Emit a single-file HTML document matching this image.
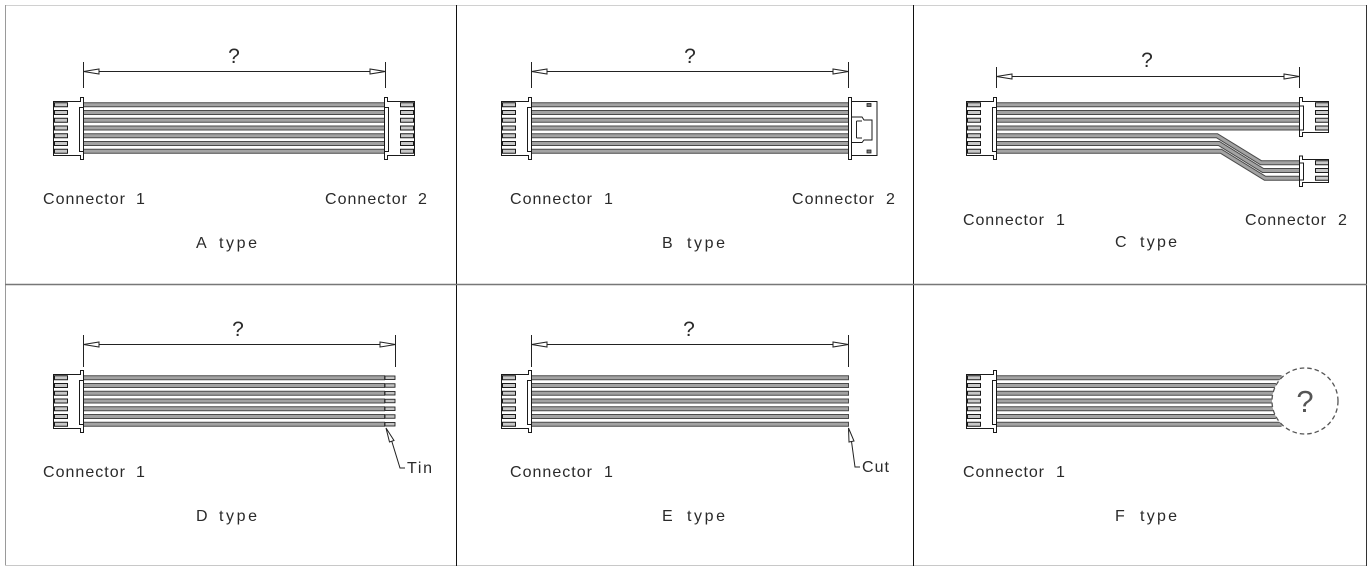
<!DOCTYPE html>
<html><head><meta charset="utf-8"><style>
html,body{margin:0;padding:0;background:#fff;}
svg{display:block;}
text{font-family:"Liberation Sans",sans-serif;fill:#2a2a2a;font-size:16px;}
.q{font-size:21px;}
.wo{stroke:#4a4a4a;stroke-width:5;fill:none;}
.wi{stroke:#a3a3a3;stroke-width:3;fill:none;}
.ln{stroke:#222;stroke-width:1;fill:none;}
.ar{stroke:#222;stroke-width:1;fill:#fff;}
.pin{fill:#c8c8c8;stroke:#1a1a1a;stroke-width:1;}
.hs{fill:#fff;stroke:#1a1a1a;stroke-width:1;}
</style></head><body>
<svg width="1372" height="573" viewBox="0 0 1372 573" xmlns="http://www.w3.org/2000/svg">
<defs>
 <g id="c7">
  <path class="hs" d="M53.5 101.5H80.5V97.5H83.5V159.5H80.5V155.5H53.5Z"/>
  <rect class="hs" x="79.5" y="107.5" width="4" height="44"/>
  <rect class="pin" x="54.5" y="102.75" width="13" height="4"/>
  <rect class="pin" x="54.5" y="110.5" width="13" height="4"/>
  <rect class="pin" x="54.5" y="118.25" width="13" height="4"/>
  <rect class="pin" x="54.5" y="126" width="13" height="4"/>
  <rect class="pin" x="54.5" y="133.75" width="13" height="4"/>
  <rect class="pin" x="54.5" y="141.5" width="13" height="4"/>
  <rect class="pin" x="54.5" y="149.25" width="13" height="4"/>
 </g>
</defs>

<!-- frame -->
<line x1="5" y1="5.5" x2="1367" y2="5.5" stroke="#d0d0d0" stroke-width="1"/>
<line x1="5.5" y1="5" x2="5.5" y2="566" stroke="#9a9a9a" stroke-width="1"/>
<line x1="5" y1="565.5" x2="1367" y2="565.5" stroke="#c8c8c8" stroke-width="1"/>
<line x1="1366.5" y1="5" x2="1366.5" y2="566" stroke="#333" stroke-width="1"/>
<line x1="456.5" y1="5" x2="456.5" y2="566" stroke="#111" stroke-width="1"/>
<line x1="913.5" y1="5" x2="913.5" y2="566" stroke="#111" stroke-width="1"/>
<line x1="5" y1="284.5" x2="1367" y2="284.5" stroke="#777" stroke-width="1.5"/>

<!-- ================= A ================= -->
<path class="ln" d="M83.5 62V88M385.5 62V88M83.5 71.5H385.5"/>
<polygon class="ar" points="83.5,71.5 99,69 99,74"/>
<polygon class="ar" points="385.5,71.5 370,69 370,74"/>
<text class="q" x="234" y="63" text-anchor="middle">?</text>
<path class="wo" d="M83 104.75H385M83 112.5H385M83 120.25H385M83 128H385M83 135.75H385M83 143.5H385M83 151.25H385"/>
<path class="wi" d="M83 104.75H385M83 112.5H385M83 120.25H385M83 128H385M83 135.75H385M83 143.5H385M83 151.25H385"/>
<use href="#c7"/>
<use href="#c7" transform="translate(468,0) scale(-1,1)"/>
<text x="43" y="204" textLength="82" lengthAdjust="spacing">Connector</text>
<text x="136" y="204">1</text>
<text x="325" y="204" textLength="82" lengthAdjust="spacing">Connector</text>
<text x="418" y="204">2</text>
<text x="196" y="248">A</text>
<text x="219" y="248" textLength="38" lengthAdjust="spacing">type</text>

<!-- ================= B ================= -->
<path class="ln" d="M531.5 62V88M848.5 62V88M531.5 71.5H848.5"/>
<polygon class="ar" points="531.5,71.5 547,69 547,74"/>
<polygon class="ar" points="848.5,71.5 833,69 833,74"/>
<text class="q" x="690" y="63" text-anchor="middle">?</text>
<path class="wo" d="M531 104.75H849M531 112.5H849M531 120.25H849M531 128H849M531 135.75H849M531 143.5H849M531 151.25H849"/>
<path class="wi" d="M531 104.75H849M531 112.5H849M531 120.25H849M531 128H849M531 135.75H849M531 143.5H849M531 151.25H849"/>
<use href="#c7" transform="translate(448,0)"/>
<!-- right B connector -->
<rect class="hs" x="851.5" y="101.5" width="25.5" height="54"/>
<path class="hs" d="M848.5 97.5H851.5V159.5H848.5Z"/>
<path class="hs" d="M851.5 117H862L864 120H872V140H864L862 142.5H851.5Z"/>
<path class="ln" d="M856.5 121V138M856.5 121H862M856.5 138H862"/>
<rect x="867" y="103.5" width="4" height="3" fill="#777" stroke="#222" stroke-width="0.8"/>
<rect x="867" y="150" width="4" height="3" fill="#777" stroke="#222" stroke-width="0.8"/>
<text x="510" y="204" textLength="82" lengthAdjust="spacing">Connector</text>
<text x="604" y="204">1</text>
<text x="792" y="204" textLength="82" lengthAdjust="spacing">Connector</text>
<text x="886" y="204">2</text>
<text x="662" y="248">B</text>
<text x="687" y="248" textLength="38" lengthAdjust="spacing">type</text>

<!-- ================= C ================= -->
<path class="ln" d="M996.5 67V88M1299.5 67V88M996.5 76.5H1299.5"/>
<polygon class="ar" points="996.5,76.5 1012,74 1012,79"/>
<polygon class="ar" points="1299.5,76.5 1284,74 1284,79"/>
<text class="q" x="1147" y="67" text-anchor="middle">?</text>
<path class="wo" d="M996 104.75H1300M996 112.5H1300M996 120.25H1300M996 128H1300M996 135.75H1217L1261 162.75H1300M996 143.5H1219L1263 170.5H1300M996 151.25H1221L1265 178.25H1300"/>
<path class="wi" d="M996 104.75H1300M996 112.5H1300M996 120.25H1300M996 128H1300M996 135.75H1217L1261 162.75H1300M996 143.5H1219L1263 170.5H1300M996 151.25H1221L1265 178.25H1300"/>
<use href="#c7" transform="translate(913,0)"/>
<!-- upper connector 2 (4 pin) -->
<path class="hs" d="M1328.5 101.5H1302.5V97.5H1299.5V136.5H1302.5V132.5H1328.5Z"/>
<rect class="hs" x="1299.5" y="106" width="4" height="24"/>
<rect class="pin" x="1315.5" y="102.75" width="13" height="4"/>
<rect class="pin" x="1315.5" y="110.5" width="13" height="4"/>
<rect class="pin" x="1315.5" y="118.25" width="13" height="4"/>
<rect class="pin" x="1315.5" y="126" width="13" height="4"/>
<!-- lower connector 2 (3 pin) -->
<path class="hs" d="M1328.5 159.5H1302.5V156H1299.5V186.5H1302.5V182.5H1328.5Z"/>
<rect class="hs" x="1299.5" y="163" width="4" height="17"/>
<rect class="pin" x="1315.5" y="160.75" width="13" height="4"/>
<rect class="pin" x="1315.5" y="168.5" width="13" height="4"/>
<rect class="pin" x="1315.5" y="176.25" width="13" height="4"/>
<text x="963" y="225" textLength="81" lengthAdjust="spacing">Connector</text>
<text x="1056" y="225">1</text>
<text x="1245" y="225" textLength="81" lengthAdjust="spacing">Connector</text>
<text x="1338" y="225">2</text>
<text x="1115" y="247">C</text>
<text x="1140" y="247" textLength="37" lengthAdjust="spacing">type</text>

<!-- ================= D ================= -->
<path class="ln" d="M83.5 335V367M395.5 335V367M83.5 344.5H395.5"/>
<polygon class="ar" points="83.5,344.5 99,342 99,347"/>
<polygon class="ar" points="395.5,344.5 380,342 380,347"/>
<text class="q" x="238" y="336" text-anchor="middle">?</text>
<path class="wo" d="M83 377.75H385M83 385.5H385M83 393.25H385M83 401H385M83 408.75H385M83 416.5H385M83 424.25H385"/>
<path class="wi" d="M83 377.75H384M83 385.5H384M83 393.25H384M83 401H384M83 408.75H384M83 416.5H384M83 424.25H384"/>
<g fill="#c4c4c4" stroke="#222" stroke-width="0.9">
 <rect x="385" y="376" width="10" height="3.5"/>
 <rect x="385" y="383.75" width="10" height="3.5"/>
 <rect x="385" y="391.5" width="10" height="3.5"/>
 <rect x="385" y="399.25" width="10" height="3.5"/>
 <rect x="385" y="407" width="10" height="3.5"/>
 <rect x="385" y="414.75" width="10" height="3.5"/>
 <rect x="385" y="422.5" width="10" height="3.5"/>
</g>
<use href="#c7" transform="translate(0,273)"/>
<polygon class="ar" points="386,428 389.5,442 394,440.5"/>
<path class="ln" d="M391.8 441.3L400 468H405"/>
<text x="407" y="473" textLength="25" lengthAdjust="spacing">Tin</text>
<text x="43" y="477" textLength="82" lengthAdjust="spacing">Connector</text>
<text x="136" y="477">1</text>
<text x="196" y="521">D</text>
<text x="219" y="521" textLength="38" lengthAdjust="spacing">type</text>

<!-- ================= E ================= -->
<path class="ln" d="M531.5 335V367M848.5 335V367M531.5 344.5H848.5"/>
<polygon class="ar" points="531.5,344.5 547,342 547,347"/>
<polygon class="ar" points="848.5,344.5 833,342 833,347"/>
<text class="q" x="689" y="336" text-anchor="middle">?</text>
<path class="wo" d="M531 377.75H849M531 385.5H849M531 393.25H849M531 401H849M531 408.75H849M531 416.5H849M531 424.25H849"/>
<path class="wi" d="M531 377.75H848M531 385.5H848M531 393.25H848M531 401H848M531 408.75H848M531 416.5H848M531 424.25H848"/>
<use href="#c7" transform="translate(448,273)"/>
<polygon class="ar" points="848.5,428 849,442 854,441"/>
<path class="ln" d="M851.5 441.5L855 467H860"/>
<text x="862" y="472" textLength="27" lengthAdjust="spacing">Cut</text>
<text x="510" y="477" textLength="82" lengthAdjust="spacing">Connector</text>
<text x="604" y="477">1</text>
<text x="662" y="521">E</text>
<text x="687" y="521" textLength="38" lengthAdjust="spacing">type</text>

<!-- ================= F ================= -->
<path class="wo" d="M996 377.75H1281.6M996 385.5H1275.9M996 393.25H1272.9M996 401H1272M996 408.75H1272.9M996 416.5H1275.9M996 424.25H1281.6"/>
<path class="wi" d="M996 377.75H1281.6M996 385.5H1275.9M996 393.25H1272.9M996 401H1272M996 408.75H1272.9M996 416.5H1275.9M996 424.25H1281.6"/>
<use href="#c7" transform="translate(913,273)"/>
<circle cx="1305" cy="401" r="33" fill="#fff" stroke="#555" stroke-width="1.3" stroke-dasharray="4.5 3"/>
<text x="1305" y="412" text-anchor="middle" style="font-size:31px;fill:#555">?</text>
<text x="963" y="477" textLength="81" lengthAdjust="spacing">Connector</text>
<text x="1056" y="477">1</text>
<text x="1115" y="521">F</text>
<text x="1140" y="521" textLength="37" lengthAdjust="spacing">type</text>
</svg>
</body></html>
